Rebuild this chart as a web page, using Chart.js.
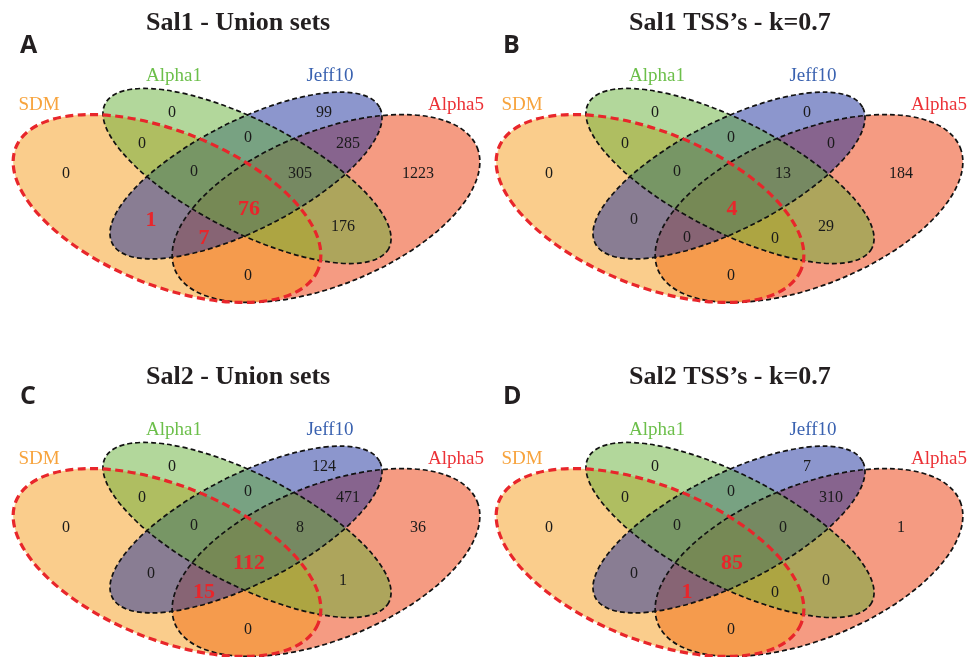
<!DOCTYPE html>
<html><head><meta charset="utf-8">
<script src="https://cdn.jsdelivr.net/npm/chart.js@4.4.1/dist/chart.umd.min.js"></script>
<style>
html,body{margin:0;padding:0;background:#fff;width:971px;height:657px;overflow:hidden;position:relative}
.panel{position:absolute;width:488px;height:320px}
.panel canvas{display:block}
</style></head><body>
<div class="panel" style="left:0;top:0"><canvas id="cA" width="488" height="320"></canvas></div>
<div class="panel" style="left:483px;top:0"><canvas id="cB" width="488" height="320"></canvas></div>
<div class="panel" style="left:0;top:354px"><canvas id="cC" width="488" height="320"></canvas></div>
<div class="panel" style="left:483px;top:354px"><canvas id="cD" width="488" height="320"></canvas></div>
<script>
// ---------------- DATA ----------------
const setNames = ['SDM', 'Alpha1', 'Jeff10', 'Alpha5'];
// region keys: S=SDM, A1=Alpha1, J=Jeff10, A5=Alpha5
const regionKeys = ['S','A1','J','A5','S_A1','A1_J','J_A5','S_A1_J','A1_J_A5','S_A1_J_A5','S_J','A1_A5','S_J_A5','S_A1_A5','S_A5'];
const panelTitles = ['Sal1 - Union sets', 'Sal1 TSS\u2019s - k=0.7', 'Sal2 - Union sets', 'Sal2 TSS\u2019s - k=0.7'];
const panelLetters = ['A', 'B', 'C', 'D'];
const sal1Union = [0, 0, 99, 1223, 0, 0, 285, 0, 305, 76, 1, 176, 7, null, 0];
const sal1Tss   = [0, 0, 0, 184, 0, 0, 0, 0, 13, 4, 0, 29, 0, 0, 0];
const sal2Union = [0, 0, 124, 36, 0, 0, 471, 0, 8, 112, 0, 1, 15, null, 0];
const sal2Tss   = [0, 0, 7, 1, 0, 0, 310, 0, 0, 85, 0, 0, 1, 0, 0];
const panelCounts = [sal1Union, sal1Tss, sal2Union, sal2Tss];

// ---------------- LAYOUT (diagram units) ----------------
const ELLIPSES = {
  SDM:    {x: 167,   y: 208.5, a: 163,   b: 77,   rot: 22},
  Alpha1: {x: 247,   y: 176,   a: 159.2, b: 55.5, rot: 27},
  Jeff10: {x: 246,   y: 175.5, a: 150,   b: 54.4, rot: -26.9},
  Alpha5: {x: 326,   y: 208.5, a: 163,   b: 77,   rot: -22}
};
const REGION_POS = {
  S:[66,173], A1:[172,112], J:[324,112], A5:[418,173],
  S_A1:[142,143], A1_J:[248,137], J_A5:[348,143],
  S_A1_J:[194,171], A1_J_A5:[300,173], S_A1_J_A5:[249,208],
  S_J:[151,219], A1_A5:[343,226], S_J_A5:[204,237], S_A1_A5:[292,238], S_A5:[248,275]
};
const SET_LABEL_POS = {SDM:[39,110], Alpha1:[174,81], Jeff10:[330,81], Alpha5:[456,110]};
const SET_STYLE = {
  SDM:    {fill:'rgba(245,155,25,0.5)',  stroke:'#e8262b', width:3.2, dash:[8,4.5], text:'#f7a33c'},
  Alpha1: {fill:'rgba(101,175,55,0.5)',  stroke:'#111',    width:1.7, dash:[5,3], text:'#6cbf4a'},
  Jeff10: {fill:'rgba(25,45,155,0.5)',   stroke:'#111',    width:1.7, dash:[5,3], text:'#3a62b0'},
  Alpha5: {fill:'rgba(235,55,5,0.5)',    stroke:'#111',    width:1.7, dash:[5,3], text:'#ec3237'}
};
const FILL_ORDER = ['Alpha5', 'SDM', 'Jeff10', 'Alpha1'];
const STROKE_ORDER = ['Alpha5', 'Jeff10', 'Alpha1', 'SDM'];
const SERIF = '"Liberation Serif","Times New Roman",serif';

const vennPlugin = {
  id: 'venn',
  beforeDatasetsDraw(chart) {
    const ctx = chart.ctx, xs = chart.scales.x, ys = chart.scales.y;
    const sx = xs.getPixelForValue(1) - xs.getPixelForValue(0);
    const sy = ys.getPixelForValue(1) - ys.getPixelForValue(0);
    const meta = chart.getDatasetMeta(0);
    const pts = chart.data.datasets[0].data;
    const path = (name) => {
      const i = pts.findIndex(p => p.name === name);
      const e = ELLIPSES[name], el = meta.data[i];
      ctx.save();
      ctx.translate(el.x, el.y); ctx.scale(sx, sy); ctx.rotate(e.rot * Math.PI / 180);
      ctx.beginPath(); ctx.ellipse(0, 0, e.a, e.b, 0, 0, Math.PI * 2);
      ctx.restore();
    };
    ctx.save();
    FILL_ORDER.forEach(n => { path(n); ctx.fillStyle = SET_STYLE[n].fill; ctx.fill(); });
    STROKE_ORDER.forEach(n => {
      path(n); const s = SET_STYLE[n];
      ctx.strokeStyle = s.stroke; ctx.lineWidth = s.width; ctx.setLineDash(s.dash); ctx.stroke();
    });
    ctx.restore();
  },
  afterDatasetsDraw(chart, args, opts) {
    const ctx = chart.ctx, xs = chart.scales.x, ys = chart.scales.y;
    ctx.save();
    ctx.textAlign = 'center'; ctx.textBaseline = 'alphabetic';
    // set names
    const lm = chart.getDatasetMeta(2), ld = chart.data.datasets[2].data;
    ld.forEach((d, i) => {
      ctx.font = '19px ' + SERIF; ctx.fillStyle = SET_STYLE[d.name].text;
      ctx.fillText(d.name, lm.data[i].x, lm.data[i].y);
    });
    // region counts
    const rm = chart.getDatasetMeta(1), rd = chart.data.datasets[1].data;
    rd.forEach((d, i) => {
      if (d.v === null || d.v === undefined) return;
      const parts = d.key.split('_');
      const hi = d.v > 0 && parts.includes('S') && parts.includes('J');
      const size = hi ? 22 : 16;
      ctx.font = (hi ? 'bold ' : '') + size + 'px ' + SERIF;
      ctx.fillStyle = hi ? '#e8262b' : '#1a1a1a';
      ctx.fillText(String(d.v), rm.data[i].x, rm.data[i].y + size * 0.33);
    });
    // title and panel letter
    ctx.textAlign = 'left';
    ctx.fillStyle = '#231f20';
    ctx.font = 'bold 26px ' + SERIF;
    ctx.fillText(opts.title, xs.getPixelForValue(146), ys.getPixelForValue(30));
    ctx.font = 'bold 25px "Open Sans","Liberation Sans",sans-serif';
    ctx.fillText(opts.letter, xs.getPixelForValue(20), ys.getPixelForValue(opts.letterY));
    ctx.restore();
  }
};

['cA','cB','cC','cD'].forEach((id, p) => {
  const counts = panelCounts[p];
  new Chart(document.getElementById(id), {
    type: 'scatter',
    data: {
      datasets: [
        {label: 'sets', data: setNames.map(n => ({x: ELLIPSES[n].x, y: ELLIPSES[n].y, name: n})), pointRadius: 0},
        {label: 'regions', data: regionKeys.map((k, i) => ({x: REGION_POS[k][0], y: REGION_POS[k][1], v: counts[i], key: k})), pointRadius: 0},
        {label: 'setLabels', data: setNames.map(n => ({x: SET_LABEL_POS[n][0], y: SET_LABEL_POS[n][1], name: n})), pointRadius: 0}
      ]
    },
    options: {
      responsive: false, animation: false, events: [],
      layout: {padding: 0},
      plugins: {
        legend: {display: false}, tooltip: {enabled: false},
        venn: {title: panelTitles[p], letter: panelLetters[p], letterY: p < 2 ? 53 : 50}
      },
      scales: {
        x: {type: 'linear', min: 0, max: 488, display: false},
        y: {type: 'linear', min: 0, max: 320, reverse: true, display: false}
      }
    },
    plugins: [vennPlugin]
  });
});
</script>
</body></html>
